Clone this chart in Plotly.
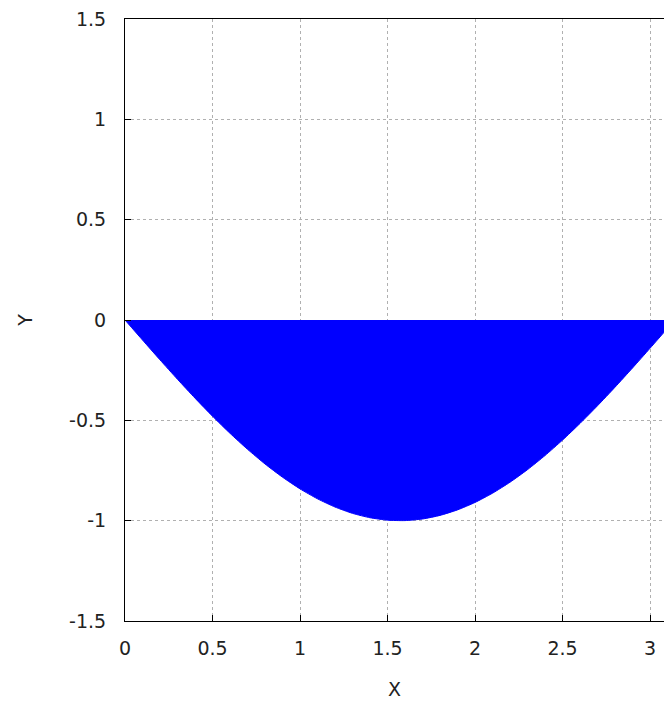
import plotly.graph_objects as go

x_vals = [0.0, 0.1, 0.2, 0.3, 0.4, 0.5, 0.6, 0.7, 0.8, 0.9, 1.0, 1.1, 1.2, 1.3, 1.4, 1.5,
          1.6, 1.7, 1.8, 1.9, 2.0, 2.1, 2.2, 2.3, 2.4, 2.5, 2.6, 2.7, 2.8, 2.9, 3.0, 3.1, 3.14]
y_vals = [0.0, -0.0998, -0.1987, -0.2955, -0.3894, -0.4794, -0.5646, -0.6442, -0.7174,
          -0.7833, -0.8415, -0.8912, -0.9320, -0.9636, -0.9854, -0.9975, -0.9996, -0.9917,
          -0.9738, -0.9463, -0.9093, -0.8632, -0.8085, -0.7457, -0.6755, -0.5985, -0.5155,
          -0.4274, -0.3350, -0.2392, -0.1411, -0.0416, -0.0016]

x_ticks = [0, 0.5, 1, 1.5, 2, 2.5, 3]
x_tick_labels = ["0", "0.5", "1", "1.5", "2", "2.5", "3"]
y_ticks = [-1.5, -1, -0.5, 0, 0.5, 1, 1.5]
y_tick_labels = ["-1.5", "-1", "-0.5", "0", "0.5", "1", "1.5"]

fig = go.Figure()
fig.add_trace(go.Scatter(
    x=x_vals, y=y_vals, mode="lines", fill="tozeroy",
    line=dict(color="#0000ff", width=1, shape="spline", smoothing=0.6),
    fillcolor="#0000ff", showlegend=False, hoverinfo="skip",
))

font = dict(family="DejaVu Sans", size=19, color="#222222")
fig.update_layout(
    width=664, height=704,
    margin=dict(l=125, r=0, t=19, b=83),
    paper_bgcolor="white", plot_bgcolor="white",
    font=font,
    xaxis=dict(
        range=[0, 3.08], tickvals=x_ticks, ticktext=x_tick_labels,
        showgrid=True, gridcolor="#b0b0b0", griddash="dot", gridwidth=1,
        zeroline=False, showline=True, linecolor="black", linewidth=1,
        mirror=True, ticks="inside", ticklen=6, tickcolor="black",
        ticklabelstandoff=10, ticklabeloverflow="allow", automargin=False,
        title=dict(text="X", font=font, standoff=24), tickfont=font,
    ),
    yaxis=dict(
        range=[-1.5, 1.5], tickvals=y_ticks, ticktext=y_tick_labels,
        showgrid=True, gridcolor="#b0b0b0", griddash="dot", gridwidth=1,
        zeroline=False, showline=True, linecolor="black", linewidth=1,
        mirror=False, ticks="inside", ticklen=6, tickcolor="black",
        ticklabelstandoff=14, ticklabeloverflow="allow", automargin=False,
        title=dict(text="Y", font=font, standoff=31), tickfont=font,
    ),
)

fig.write_html(
    "out.html",
    config={"displayModeBar": False},
    post_script="document.body.style.margin='0';document.body.style.overflow='hidden';",
)
